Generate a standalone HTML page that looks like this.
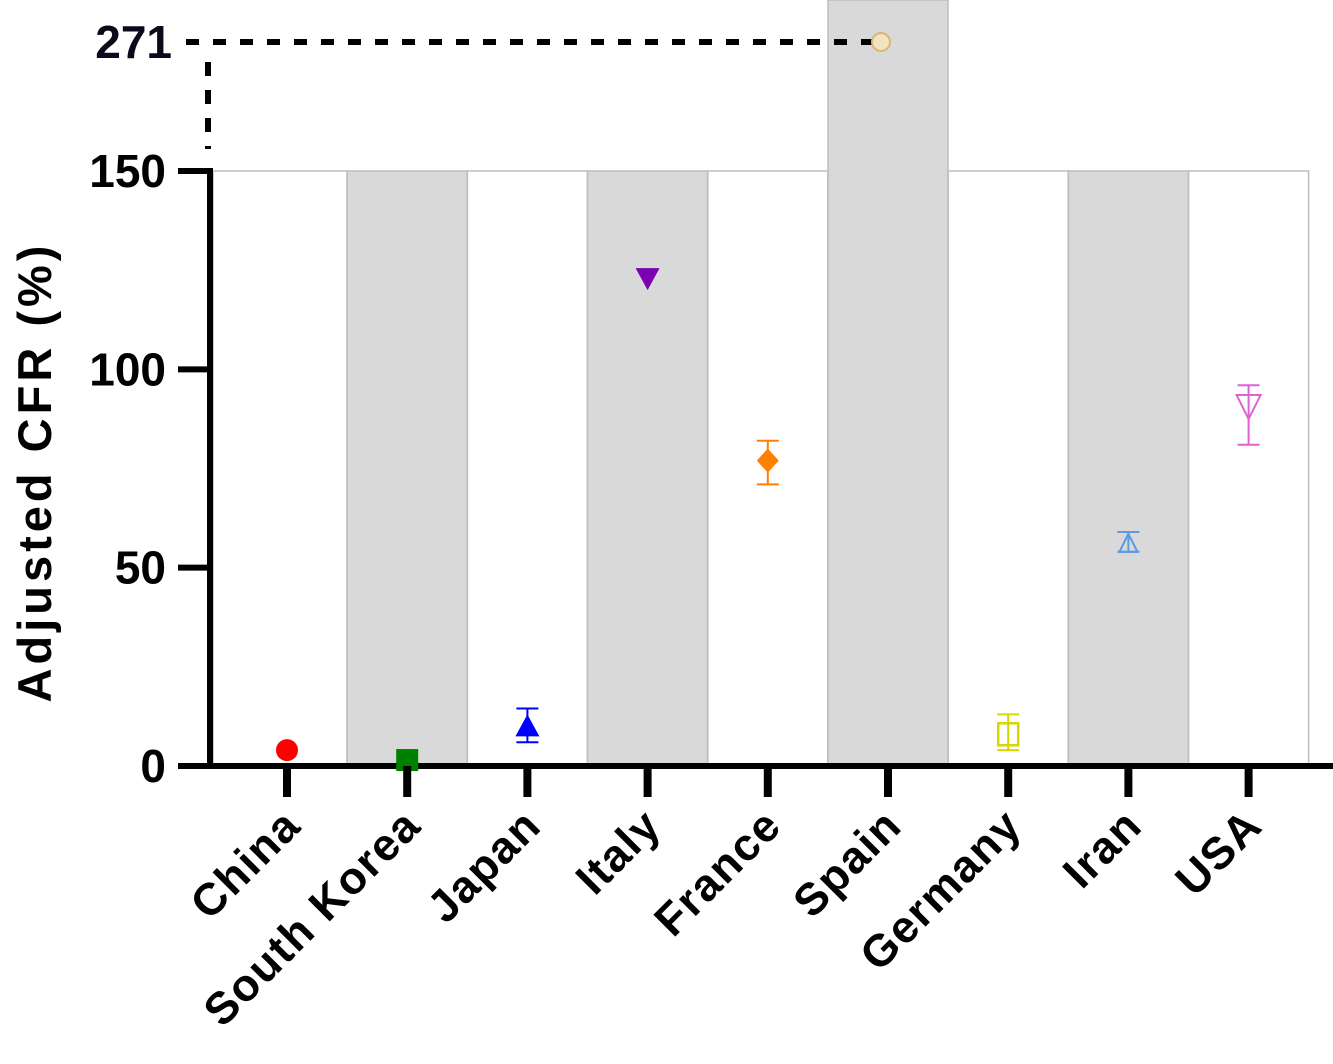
<!DOCTYPE html>
<html><head><meta charset="utf-8"><style>
body{margin:0;background:#fff;}
svg text{font-family:"Liberation Sans",Arial,sans-serif;font-weight:bold;}
</style></head><body>
<svg id="chart" width="1333" height="1059" viewBox="0 0 1333 1059"></svg>
<script>
const categories=["China","South Korea","Japan","Italy","France","Spain","Germany","Iran","USA"];
const values=[4,1.5,10,123,77,271,8,56,91];
const errLow=[4,1.5,6,123,71,271,4,54,81];
const errHigh=[4,1.5,14.5,123,82,271,13,59,96];
const colors=["#ff0000","#008000","#0000ff","#7a00b0","#ff7f00","#f0d7a0","#d6d600","#5a9be6","#e060d8"];
const yTicks=[0,50,100,150];
const shaded=[false,true,false,true,false,true,false,true,false];

const NS="http://www.w3.org/2000/svg";
const svg=document.getElementById('chart');
function el(t,a,p){const e=document.createElementNS(NS,t);for(const k in a)e.setAttribute(k,a[k]);(p||svg).appendChild(e);return e;}
const y=v=>766-v*(595/150);
const x=i=>287+i*120.2;
const bw=120;

categories.forEach((c,i)=>{
  const top=(values[i]>150)?0:y(150);
  let left=x(i)-bw/2, w=bw;
  if(i===0){left=213;w=x(i)+bw/2-213;}
  const b=el('rect',{x:left,y:top,width:w,height:766-top,fill:shaded[i]?'#d9d9d9':'#fff',stroke:'#bdbdbd','stroke-width':1.5});
  
  
});
const ya=el('line',{x1:210,y1:y(150)-3,x2:210,y2:768,stroke:'#000','stroke-width':6});

const xa=el('line',{x1:207,y1:766,x2:1333,y2:766,stroke:'#000','stroke-width':6});

yTicks.forEach(t=>{
  const l=el('line',{x1:178,y1:y(t),x2:210,y2:y(t),stroke:'#000','stroke-width':6});
  
  const tx=el('text',{x:166,y:y(t)+16,'text-anchor':'end','font-size':46,fill:'#000'});
  tx.textContent=t;
  
});
const maxV=values[5];
const yM=y(150)-129*(maxV-150)/121;
const dh=el('line',{x1:186,y1:yM,x2:x(5)-8,y2:yM,stroke:'#000','stroke-width':6,'stroke-dasharray':'13,14'});

const dv=el('line',{x1:208,y1:yM+20,x2:208,y2:y(150)-22,stroke:'#000','stroke-width':6,'stroke-dasharray':'14,14'});

const lm=el('text',{x:172,y:yM+16,'text-anchor':'end','font-size':46,fill:'#0a0a1a'});
lm.textContent=maxV;


categories.forEach((c,i)=>{
  const cx=x(i);const v=values[i];
  const px=v>150?cx-7:cx;
  const cy=v>150?yM:y(v);
  const g=el('g',{});
  
  
  const col=colors[i];
  if(errHigh[i]!==errLow[i]){
    const yl=y(errLow[i]),yh=y(errHigh[i]);
    el('line',{x1:px,y1:yl,x2:px,y2:yh,stroke:col,'stroke-width':2},g);
    el('line',{x1:px-11,y1:yl,x2:px+11,y2:yl,stroke:col,'stroke-width':2},g);
    el('line',{x1:px-11,y1:yh,x2:px+11,y2:yh,stroke:col,'stroke-width':2},g);
  }
  if(i===0) el('circle',{cx:px,cy,r:11,fill:col},g);
  else if(i===1) el('rect',{x:px-11,y:cy-11,width:22,height:22,fill:col},g);
  else if(i===2) el('polygon',{points:`${px},${cy-12} ${px-12},${cy+10} ${px+12},${cy+10}`,fill:col},g);
  else if(i===3) el('polygon',{points:`${px-12},${cy-10} ${px+12},${cy-10} ${px},${cy+12}`,fill:col},g);
  else if(i===4) el('polygon',{points:`${px},${cy-12} ${px+11},${cy} ${px},${cy+12} ${px-11},${cy}`,fill:col},g);
  else if(i===5) el('circle',{cx:px,cy,r:9,fill:'#f3e3c0',stroke:'#d8b878','stroke-width':2},g);
  else if(i===6) el('rect',{x:px-10,y:cy-11,width:20,height:22,fill:'none',stroke:col,'stroke-width':2.5},g);
  else if(i===7) el('polygon',{points:`${px},${cy-10} ${px-9},${cy+8} ${px+9},${cy+8}`,fill:'none',stroke:col,'stroke-width':2},g);
  else el('polygon',{points:`${px-12},${cy-10} ${px+12},${cy-10} ${px},${cy+14}`,fill:'none',stroke:col,'stroke-width':2},g);
  const t=el('line',{x1:cx,y1:766,x2:cx,y2:797,stroke:'#000','stroke-width':8});
  
  const lx=cx+16,ly=828;
  const tl=el('text',{x:lx,y:ly,'text-anchor':'end','font-size':45,'letter-spacing':1.5,fill:'#000',transform:`rotate(-45 ${lx} ${ly})`});
  tl.textContent=c;
  
});
const yt=el('text',{x:51,y:472,'text-anchor':'middle','font-size':47,'letter-spacing':4,fill:'#000',transform:'rotate(-90 51 472)'});
yt.textContent='Adjusted CFR (%)';

</script>
</body></html>
